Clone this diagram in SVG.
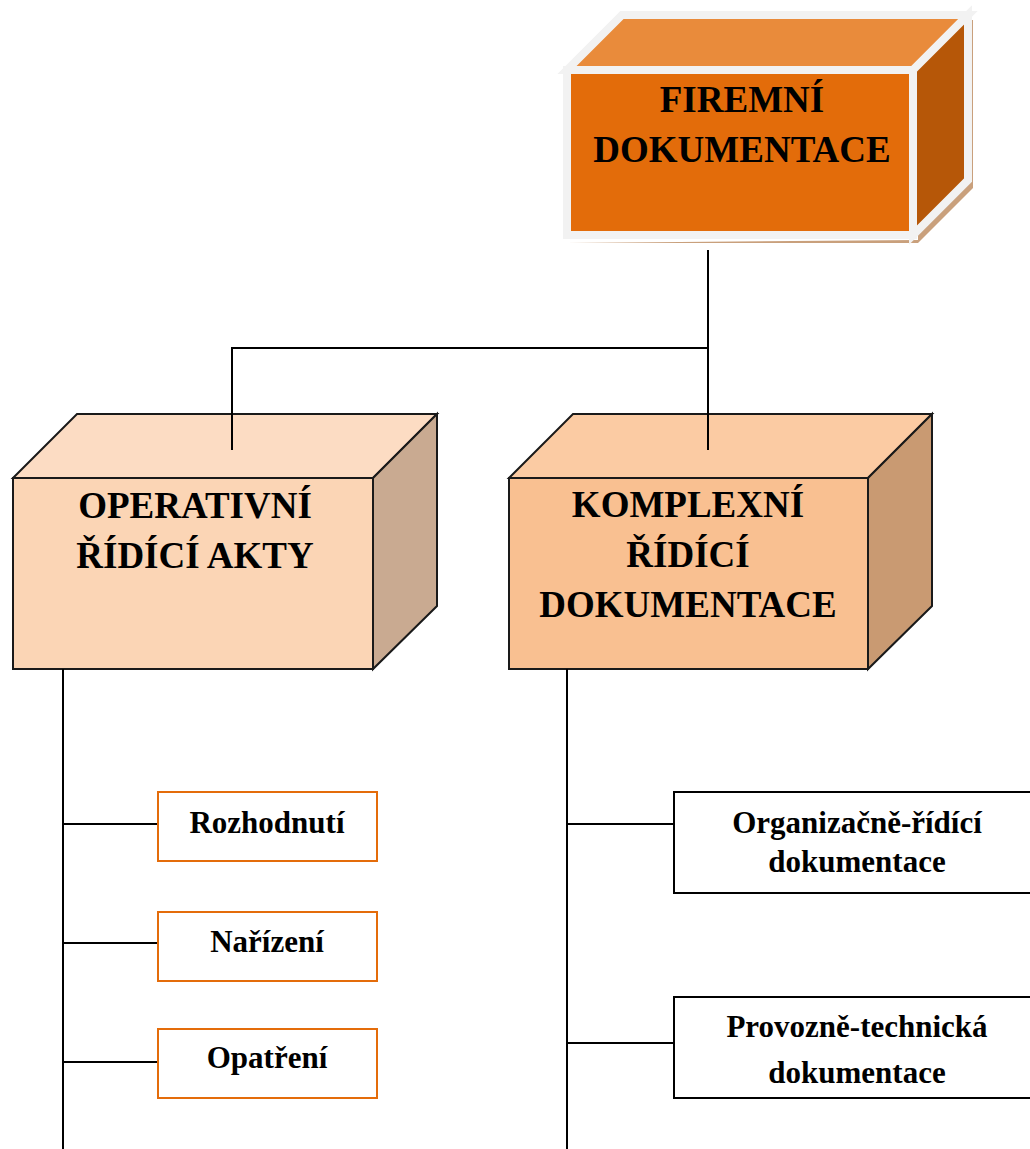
<svg xmlns="http://www.w3.org/2000/svg" width="1030" height="1149" viewBox="0 0 1030 1149">
  <style>
    .t { font-family: "Liberation Serif", "Times New Roman", serif; font-weight: bold; fill: #000; text-anchor: middle; }
    .big { font-size: 37px; }
    .small { font-size: 31px; }
    .edge { stroke: #000; stroke-width: 2; fill: none; }
    .cube { stroke: #1a1a1a; stroke-width: 2; stroke-linejoin: miter; }
    .leaf-o { fill: #fff; stroke: #e46c0a; stroke-width: 2; }
    .leaf-k { fill: #fff; stroke: #000; stroke-width: 2; }
  </style>

  <!-- root cube -->
  <g id="firemni-dokumentace">
    <!-- drop shadow -->
    <polygon points="567,243 918,243 973,188 973,20 918,20 918,240" fill="#c9a07c"/>
    <polygon points="567,70 622,15 968,15 913,70" fill="#e98b3b" stroke="#f2f2f2" stroke-width="8" stroke-linejoin="miter"/>
    <polygon points="913,70 968,15 968,180 913,235" fill="#b65708" stroke="#f2f2f2" stroke-width="8" stroke-linejoin="miter"/>
    <rect x="567" y="70" width="346" height="165" fill="#e36c0a" stroke="#f2f2f2" stroke-width="8"/>
    <text class="t big" x="742" y="112">FIREMNÍ</text>
    <text class="t big" x="742" y="162">DOKUMENTACE</text>
  </g>

  <!-- operative acts cube -->
  <g id="operativni-ridici-akty">
    <polygon class="cube" points="13,478 77,414 437,414 373,478" fill="#fcdcc3"/>
    <polygon class="cube" points="373,478 437,414 437,606 373,669" fill="#c9aa91"/>
    <rect class="cube" x="13" y="478" width="360" height="191" fill="#fbd5b5"/>
    <text class="t big" x="195" y="518">OPERATIVNÍ</text>
    <text class="t big" x="195" y="568">ŘÍDÍCÍ AKTY</text>
  </g>

  <!-- complex documentation cube -->
  <g id="komplexni-ridici-dokumentace">
    <polygon class="cube" points="509,478 573,414 932,414 868,478" fill="#fbcba3"/>
    <polygon class="cube" points="868,478 932,414 932,606 868,669" fill="#c99a72"/>
    <rect class="cube" x="509" y="478" width="359" height="191" fill="#f9c091"/>
    <text class="t big" x="688" y="517">KOMPLEXNÍ</text>
    <text class="t big" x="688" y="567">ŘÍDÍCÍ</text>
    <text class="t big" x="688" y="617">DOKUMENTACE</text>
  </g>

  <!-- connectors (drawn over the cube tops, where they end on the top face) -->
  <g id="connectors">
    <polyline class="edge" points="708,250 708,450"/>
    <polyline class="edge" points="232,450 232,348 708,348"/>
    <line class="edge" x1="63" y1="669" x2="63" y2="1149"/>
    <line class="edge" x1="63" y1="824" x2="158" y2="824"/>
    <line class="edge" x1="63" y1="943" x2="158" y2="943"/>
    <line class="edge" x1="63" y1="1062" x2="158" y2="1062"/>
    <line class="edge" x1="567" y1="669" x2="567" y2="1149"/>
    <line class="edge" x1="567" y1="824" x2="674" y2="824"/>
    <line class="edge" x1="567" y1="1043" x2="674" y2="1043"/>
  </g>

  <!-- operative acts leaves -->
  <g id="rozhodnuti">
    <rect class="leaf-o" x="158" y="792" width="219" height="69"/>
    <text class="t small" x="267" y="833">Rozhodnutí</text>
  </g>
  <g id="narizeni">
    <rect class="leaf-o" x="158" y="912" width="219" height="69"/>
    <text class="t small" x="267" y="952">Nařízení</text>
  </g>
  <g id="opatreni">
    <rect class="leaf-o" x="158" y="1029" width="219" height="69"/>
    <text class="t small" x="267" y="1068">Opatření</text>
  </g>

  <!-- complex documentation leaves -->
  <g id="organizacne-ridici">
    <rect class="leaf-k" x="674" y="792" width="362" height="101"/>
    <text class="t small" x="857" y="833">Organizačně-řídící</text>
    <text class="t small" x="857" y="872">dokumentace</text>
  </g>
  <g id="provozne-technicka">
    <rect class="leaf-k" x="674" y="997" width="362" height="101"/>
    <text class="t small" x="857" y="1037">Provozně-technická</text>
    <text class="t small" x="857" y="1083">dokumentace</text>
  </g>
</svg>
